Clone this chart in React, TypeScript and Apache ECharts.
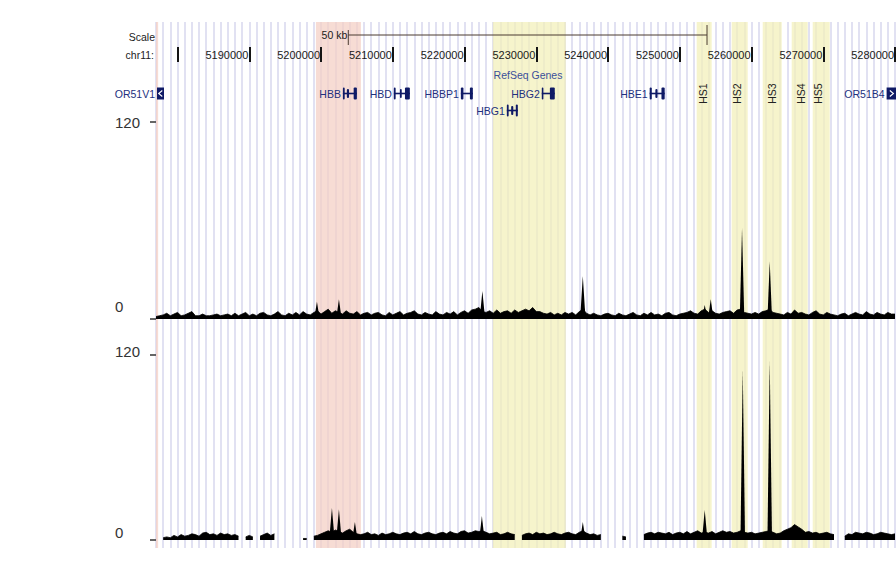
import React, { useEffect, useRef } from "react";
import * as echarts from "echarts";

// ---- genomic window (chr11, bp) ----
const X_MIN = 5177000;
const X_MAX = 5280000;

// ---- ruler ----
const rulerTicks = [5180000, 5190000, 5200000, 5210000, 5220000, 5230000, 5240000, 5250000, 5260000, 5270000, 5280000];
const rulerLabels = [5190000, 5200000, 5210000, 5220000, 5230000, 5240000, 5250000, 5260000, 5270000, 5280000];
const scaleBarStart = 5203800;
const scaleBarEnd = 5253800;
const scaleBarLabel = "50 kb";

// ---- highlighted regions ----
const highlightStarts = [5177000, 5199290, 5223940, 5252360, 5257240, 5261560, 5265600, 5268530];
const highlightEnds = [5177300, 5205560, 5234110, 5254450, 5259470, 5264210, 5267830, 5270900];
const highlightKinds = ["red", "red", "yellow", "yellow", "yellow", "yellow", "yellow", "yellow"];

// ---- RefSeq genes ----
const geneNames = ["OR51V1", "HBB", "HBD", "HBBP1", "HBG1", "HBG2", "HBE1", "OR51B4"];
const geneStarts = [5177140, 5203050, 5210150, 5219490, 5225900, 5230770, 5245810, 5278830];
const geneEnds = [5178115, 5205000, 5212380, 5221160, 5227430, 5232580, 5247900, 5280230];
const geneRows = [0, 0, 0, 0, 1, 0, 0, 0];
const geneSolid = [true, false, false, false, false, false, false, true];
const geneStrand = ["-", "-", "-", "-", "-", "-", "-", "+"];
const geneExons = [
  [[5177140, 5178115]],
  [[5203050, 5203300], [5203600, 5203900], [5204550, 5205000]],
  [[5210150, 5210400], [5211000, 5211250], [5211700, 5212380]],
  [[5219490, 5219850], [5220750, 5221160]],
  [[5225900, 5226150], [5226500, 5226800], [5227150, 5227430]],
  [[5230770, 5230980], [5231900, 5232580]],
  [[5245810, 5246100], [5246600, 5246900], [5247450, 5247900]],
  [[5278830, 5280230]],
];

// ---- hypersensitive sites ----
const hsNames = ["HS1", "HS2", "HS3", "HS4", "HS5"];
const hsPositions = [5253200, 5258000, 5262810, 5266950, 5269290];

// ---- signal tracks (500 bp bins starting at BIN_START) ----
const BIN_START = 5177000;
const BIN_SIZE = 500;
const yTicks = [0, 120];

const track1Values = [
  1.5, 2, 2.5, 3.5, 2, 3, 4, 2, 2.5, 3.5, 4.5, 2, 2, 3, 2, 2, 2.5, 3, 2, 2.5,
  3, 2, 3.5, 2, 3, 4, 2, 3, 2, 3.5, 4, 2.5, 2, 3, 4.5, 2.5, 2, 3.5, 2.5, 4,
  2.5, 4.5, 3, 2.5, 4, 5, 3, 4.5, 6, 3.5, 5, 4, 3, 5, 3.5, 3, 4.5, 2.5, 3.5, 4,
  2.5, 3.5, 4, 2.5, 2, 4, 2.5, 3.5, 4.5, 2.5, 3.5, 4, 5, 3, 2.5, 4, 3, 2.5, 4.5, 3,
  2.5, 4, 3, 4.5, 2.5, 4, 5, 3.5, 5.5, 6, 7, 4.5, 4, 5, 3.5, 5.5, 3.5, 4.5, 5, 3.5,
  5.5, 4, 5, 6, 5, 7, 4.5, 4.5, 3.5, 3, 4, 2.5, 3.5, 2.5, 4, 3, 4, 2.5, 4.5, 6,
  3.5, 2.5, 3.5, 2.5, 2, 3, 3.5, 2.5, 2, 3.5, 2.5, 2, 3, 4, 2.5, 2, 3.5, 2.5, 4, 2.5,
  3, 2, 3.5, 4, 2.5, 2, 3, 3.5, 4, 5, 3.5, 3, 5, 6, 4, 5, 3.5, 3, 4, 4.5,
  5, 3.5, 5.5, 6, 4, 3.5, 3, 4, 3, 4.5, 5, 6, 4, 3.5, 3, 2.5, 4, 3, 5.5, 3.5,
  4, 3, 2.5, 4, 5, 3, 2.5, 4, 3, 2.5, 2, 3, 3.5, 2, 3, 4, 3, 2.5, 4.5, 3,
  2.5, 4, 3, 2.5, 4, 3, 3,
];
const track1Peaks = [
  [5199430, 10.5], [5202495, 12], [5222490, 17], [5236490, 26],
  [5253480, 8.5], [5254320, 12], [5258680, 55.5], [5262540, 35],
];

const track2Values = [
  null, null, 1.5, 2, 1.5, 3, 2, 3.5, 2.5, 3, 4, 3.5, 2.5, 4.5, 5, 3.5, 4, 3, 4.5, 3.5,
  4, 3, 3.5, 2.5, null, 2, 3, 2, null, 2.5, 3.5, 4.5, 3, 4, null, null, null, null, null, null,
  null, 1, 1, null, 2.5, 3, 4, 5, 6, 5, 6.5, 5.5, 4.5, 6, 7, 5, 4, 3.5, 4, 5,
  3.5, 4, 3, 4.5, 3.5, 4, 5, 4, 3.5, 4.5, 5, 4, 5.5, 4, 3.5, 4.5, 5, 4, 3.5, 4.5,
  5, 4, 5.5, 4.5, 4, 5.5, 6, 4.5, 5, 6, 5.5, 6, 5, 4, 4.5, 5, 3.5, 4, 5, 4,
  3.5, null, 3, 4, 4.5, 3.5, 5, 4, 4.5, 3.5, 4, 5, 4, 3.5, 4.5, 5, 4, 3.5, 5, 6,
  4.5, 3.5, 4, 3, 3.5, null, null, null, 2, null, 2.5, 2, null, 1.5, null, null, 3.5, 4.5, 5, 4,
  5, 4.5, 4, 5, 3.5, 4.5, 5, 4, 5.5, 4, 5, 6, 4.5, 5, 4.5, 5.5, 4, 5, 6, 5,
  5.5, 4.5, 5, 6, 5, 4.5, 5, 4, 4.5, 5, 5.5, 6, 5, 4, 4.5, 6, 7, 8, 10, 8.5,
  7, 5, 5.5, 4.5, 5, 4, 4.5, 5, 4, 3.5, null, null, 2.5, 4, 3.5, 5, 4.5, 4, 5, 4.5,
  3.5, 4, 5, 4.5, 4, 3.5, 4,
];
const track2Peaks = [
  [5201520, 20.8], [5202495, 20], [5204720, 11.7], [5222420, 15.6],
  [5236490, 11.7], [5253480, 19.5], [5258780, 110.7], [5262540, 116.3],
];

const FONT = "'Liberation Sans', Arial, sans-serif";

function binned(values: (number | null)[]) {
  return values.map((v, i) => [BIN_START + i * BIN_SIZE, v === null ? "-" : v]);
}

export default function App() {
  const ref = useRef<HTMLDivElement>(null);

  useEffect(() => {
    if (!ref.current) return;
    const chart = echarts.init(ref.current, undefined, { renderer: "svg" });

    const W = 739;
    const gridDefs = [
      { left: 156, top: 22, width: W, height: 526 }, // background
      { left: 156, top: 26, width: W, height: 18 }, // scale bar
      { left: 156, top: 47, width: W, height: 15 }, // ruler
      { left: 156, top: 85, width: W, height: 34 }, // genes
      { left: 156, top: 122, width: W, height: 197 }, // track 1
      { left: 156, top: 355, width: W, height: 185 }, // track 2
    ].map((g) => ({ ...g, containLabel: false, outerBoundsMode: "none" }));

    const hiddenX = (i: number) => ({
      type: "value",
      gridIndex: i,
      min: X_MIN,
      max: X_MAX,
      show: false,
    });

    const xAxis: any[] = [
      {
        type: "value",
        gridIndex: 0,
        min: X_MIN,
        max: X_MAX,
        interval: 1000,
        axisLine: { show: false },
        axisTick: { show: false },
        axisLabel: { show: false },
        splitLine: { show: true, lineStyle: { color: "#e1e1f2", width: 2 } },
      },
      hiddenX(1),
      {
        type: "value",
        gridIndex: 2,
        min: X_MIN,
        max: X_MAX,
        position: "bottom",
        z: 10,
        axisLine: { show: false },
        axisTick: {
          show: true,
          inside: true,
          length: 15,
          customValues: rulerTicks,
          lineStyle: { color: "#151515", width: 2 },
        },
        axisLabel: {
          show: true,
          inside: true,
          margin: 2,
          align: "right",
          customValues: rulerLabels,
          formatter: (v: number) => String(v),
          color: "#1a1a1a",
          fontFamily: FONT,
          fontSize: 11,
          padding: [0, 1, 0, 0],
        },
        splitLine: { show: false },
      },
      hiddenX(3),
      hiddenX(4),
      hiddenX(5),
    ];

    const trackY = (gi: number, rich120: number, rich0: number) => ({
      type: "value",
      gridIndex: gi,
      min: 0,
      max: 120,
      z: 10,
      axisLine: { show: false },
      splitLine: { show: false },
      axisTick: {
        show: true,
        length: 6,
        customValues: yTicks,
        lineStyle: { color: "#333", width: 1.5 },
      },
      axisLabel: {
        show: true,
        customValues: yTicks,
        align: "left",
        margin: 41,
        formatter: (v: number) =>
          v === 120
            ? rich120 > 0
              ? "{n|120}\n{s" + rich120 + "| }"
              : "{n|120}"
            : "{n|0}\n{s" + rich0 + "| }",
        rich: {
          n: { fontSize: 15, lineHeight: 16, color: "#333", fontFamily: FONT },
          ["s" + rich120]: { fontSize: 1, lineHeight: rich120 },
          ["s" + rich0]: { fontSize: 1, lineHeight: rich0 },
        },
      },
    });

    const yAxis: any[] = [
      { type: "value", gridIndex: 0, min: 0, max: 1, show: false },
      { type: "value", gridIndex: 1, min: 0, max: 1, show: false },
      { type: "value", gridIndex: 2, min: 0, max: 1, show: false },
      { type: "value", gridIndex: 3, min: -0.5, max: 1.5, inverse: true, show: false },
      trackY(4, 0, 26),
      trackY(5, 8, 16),
    ];

    const hlColor: Record<string, string> = { red: "#f4cfc4", yellow: "#f3f0b8" };

    const peakRender = (params: any, api: any) => {
      const p = api.value(0);
      const h = api.value(1);
      const hw = h > 30 ? 320 : 380;
      const a = api.coord([p - hw, 0]);
      const b = api.coord([p, h]);
      const c = api.coord([p + hw, 0]);
      return {
        type: "polygon",
        shape: { points: [a, b, c] },
        style: { fill: "#000" },
      };
    };

    const txt = (text: string, x: number, y: number, align: string, fill: string) => ({
      type: "text",
      x,
      y,
      z: 20,
      style: { text, align, verticalAlign: "middle", fill, font: `10.5px ${FONT}` },
    });

    const option: any = {
      animation: false,
      backgroundColor: "#ffffff",
      grid: gridDefs,
      xAxis,
      yAxis,
      graphic: [
        txt("Scale", 155, 37, "right", "#1a1a1a"),
        txt("chr11:", 154, 55, "right", "#1a1a1a"),
        txt("RefSeq Genes", 528, 75, "center", "#3a4f9a"),
      ],
      series: [
        {
          type: "custom",
          name: "highlights",
          xAxisIndex: 0,
          yAxisIndex: 0,
          z: 1,
          silent: true,
          data: highlightStarts.map((s, i) => [s, highlightEnds[i], i]),
          encode: { x: [0, 1] },
          renderItem: (params: any, api: any) => {
            const i = api.value(2);
            const cs = params.coordSys;
            const x1 = api.coord([api.value(0), 0])[0];
            const x2 = api.coord([api.value(1), 0])[0];
            return {
              type: "rect",
              shape: { x: x1, y: cs.y, width: x2 - x1, height: cs.height },
              style: { fill: hlColor[highlightKinds[i]], opacity: 0.72 },
            };
          },
        },
        {
          type: "custom",
          name: "scale bar",
          xAxisIndex: 1,
          yAxisIndex: 1,
          z: 6,
          silent: true,
          data: [[scaleBarStart, scaleBarEnd, 0.5]],
          encode: { x: [0, 1], y: 2 },
          renderItem: (params: any, api: any) => {
            const a = api.coord([api.value(0), api.value(2)]);
            const b = api.coord([api.value(1), api.value(2)]);
            const col = "#4a3a30";
            return {
              type: "group",
              children: [
                { type: "line", shape: { x1: a[0], y1: a[1], x2: b[0], y2: b[1] }, style: { stroke: col, lineWidth: 1 } },
                { type: "line", shape: { x1: a[0], y1: a[1] - 5, x2: a[0], y2: a[1] + 10 }, style: { stroke: col, lineWidth: 1 } },
                { type: "line", shape: { x1: b[0], y1: b[1] - 10, x2: b[0], y2: b[1] + 10 }, style: { stroke: col, lineWidth: 1 } },
                {
                  type: "text",
                  x: a[0] - 1,
                  y: a[1],
                  style: { text: scaleBarLabel, align: "right", verticalAlign: "middle", fill: "#1a1a1a", font: `10.5px ${FONT}` },
                },
              ],
            };
          },
        },
        {
          type: "custom",
          name: "RefSeq Genes",
          xAxisIndex: 3,
          yAxisIndex: 3,
          z: 6,
          silent: true,
          data: geneNames.map((n, i) => [geneStarts[i], geneEnds[i], geneRows[i], i]),
          encode: { x: [0, 1], y: 2 },
          renderItem: (params: any, api: any) => {
            const i = api.value(3);
            const row = api.value(2);
            const s = api.coord([api.value(0), row]);
            const e = api.coord([api.value(1), row]);
            const y = s[1];
            const navy = "#0f1a66";
            const children: any[] = [];
            if (geneSolid[i]) {
              const w = Math.max(e[0] - s[0], 6);
              children.push({ type: "rect", shape: { x: s[0], y: y - 6, width: w, height: 12 }, style: { fill: navy } });
              const cx = s[0] + w / 2;
              const d = geneStrand[i] === "-" ? 1 : -1;
              children.push({
                type: "polyline",
                shape: { points: [[cx + 1.8 * d, y - 3], [cx - 1.8 * d, y], [cx + 1.8 * d, y + 3]] },
                style: { stroke: "#ffffff", lineWidth: 1.1, fill: "none" },
              });
            } else {
              children.push({ type: "rect", shape: { x: s[0], y: y - 0.8, width: e[0] - s[0], height: 1.6 }, style: { fill: navy } });
              geneExons[i].forEach((ex: number[], k: number) => {
                const a = api.coord([ex[0], row])[0];
                const b = api.coord([ex[1], row])[0];
                const tall = k === 0 || k === geneExons[i].length - 1;
                const h = tall ? 12 : 9;
                children.push({
                  type: "rect",
                  shape: { x: a, y: y - h / 2, width: Math.max(b - a, 1.6), height: h, r: 1 },
                  style: { fill: navy },
                });
              });
            }
            children.push({
              type: "text",
              x: s[0] - 2,
              y: y,
              style: { text: geneNames[i], align: "right", verticalAlign: "middle", fill: "#22307e", font: `10.5px ${FONT}` },
            });
            return { type: "group", children };
          },
        },
        {
          type: "custom",
          name: "HS sites",
          xAxisIndex: 3,
          yAxisIndex: 3,
          z: 6,
          silent: true,
          data: hsPositions.map((p, i) => [p, 0, i]),
          encode: { x: 0, y: 1 },
          renderItem: (params: any, api: any) => {
            const c = api.coord([api.value(0), api.value(1)]);
            return {
              type: "text",
              x: c[0],
              y: c[1],
              rotation: Math.PI / 2,
              style: { text: hsNames[api.value(2)], align: "center", verticalAlign: "middle", fill: "#222", font: `10.5px ${FONT}` },
            };
          },
        },
        {
          type: "line",
          name: "track 1",
          xAxisIndex: 4,
          yAxisIndex: 4,
          z: 5,
          data: binned(track1Values),
          showSymbol: false,
          symbol: "none",
          connectNulls: false,
          lineStyle: { color: "#000", width: 0.8 },
          areaStyle: { color: "#000", opacity: 1 },
          silent: true,
        },
        {
          type: "custom",
          name: "track 1 peaks",
          xAxisIndex: 4,
          yAxisIndex: 4,
          z: 5,
          silent: true,
          data: track1Peaks,
          encode: { x: 0, y: 1 },
          renderItem: peakRender,
        },
        {
          type: "line",
          name: "track 2",
          xAxisIndex: 5,
          yAxisIndex: 5,
          z: 5,
          data: binned(track2Values),
          showSymbol: false,
          symbol: "none",
          connectNulls: false,
          lineStyle: { color: "#000", width: 0.8 },
          areaStyle: { color: "#000", opacity: 1 },
          silent: true,
        },
        {
          type: "custom",
          name: "track 2 peaks",
          xAxisIndex: 5,
          yAxisIndex: 5,
          z: 5,
          silent: true,
          data: track2Peaks,
          encode: { x: 0, y: 1 },
          renderItem: peakRender,
        },
      ],
    };

    chart.setOption(option);
    return () => chart.dispose();
  }, []);

  return (
    <div
      ref={ref}
      style={{ position: "absolute", left: 0, top: 0, width: 896, height: 566, background: "#fff" }}
    />
  );
}
